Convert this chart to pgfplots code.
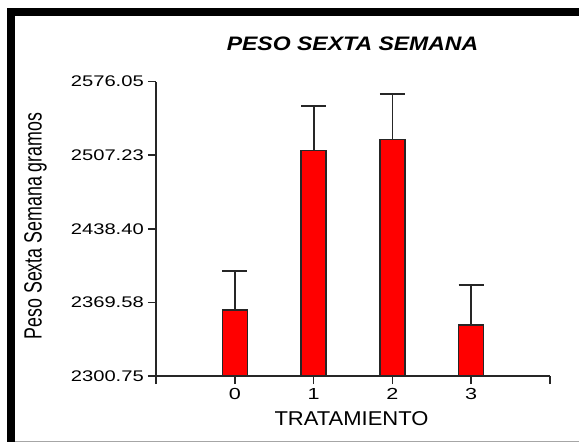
\documentclass[border=0pt]{standalone}
\usepackage{pgfplots}
\pgfplotsset{compat=1.18}
\usepackage{fontspec}
\setmainfont{Liberation Sans}
\newcommand{\yt}[1]{\scalebox{1.31}[1]{\fontsize{15.4}{16}\selectfont #1}}
\newcommand{\xt}[1]{\scalebox{1.35}[1]{\fontsize{16}{17}\selectfont #1}}
\begin{document}
\begin{tikzpicture}[x=1pt,y=1pt]
\useasboundingbox (0,0) rectangle (579,442);
\fill[white] (0,0) rectangle (579,442);
\fill[black] (7,426) rectangle (579,434);
\fill[black] (7,0) rectangle (15,434);
\draw[black!35, line width=1pt] (15,0.5) -- (579,0.5);
\begin{axis}[
  at={(156pt,66pt)}, anchor=south west,
  scale only axis, width=394pt, height=294.33pt,
  xmin=-1, xmax=4, ymin=2300.75, ymax=2576.05,
  axis lines*=left,
  axis line style={line width=1.5pt, black!85},
  xtick={-1,0,1,2,3,4},
  xticklabels={,\xt{0},\xt{1},\xt{2},\xt{3},},
  ytick={2300.75,2369.58,2438.40,2507.23,2576.05},
  yticklabels={\yt{2300.75},\yt{2369.58},\yt{2438.40},\yt{2507.23},\yt{2576.05}},
  tick align=outside, major tick length=8pt,
  tick style={line width=1.5pt, black!85},
  xticklabel style={anchor=north, inner sep=0pt, yshift=-4pt},
  yticklabel style={anchor=east, inner sep=0pt, xshift=-4pt},
  clip=false,
]
\addplot[ybar, bar width=25pt, bar shift=0pt, fill=red, draw=black!85, line width=1.5pt,
  error bars/.cd, y dir=plus, y explicit,
  error bar style={line width=1.8pt, black!85},
  error mark options={line width=1.8pt, black!85, mark size=12.5pt, rotate=90}]
  coordinates {
  (0,2362.5) +- (0,36.1)
  (1,2511.5) +- (0,41.5)
  (2,2522.1) +- (0,42.1)
  (3,2348.5) +- (0,37.7)
  };
\end{axis}
\node[anchor=base] at (352.5,391.3) {\scalebox{1.18}[1]{\fontsize{19.5}{20}\selectfont\bfseries\itshape PESO SEXTA SEMANA}};
\node[anchor=base] at (351.5,16) {\scalebox{1.1}[1]{\fontsize{20}{21}\selectfont TRATAMIENTO}};
\node[rotate=90, anchor=base, inner sep=0pt] at (41.7,216) {\scalebox{1}[1.4]{\fontsize{17.8}{18}\selectfont Peso Sexta Semana gramos}};
\end{tikzpicture}
\end{document}
